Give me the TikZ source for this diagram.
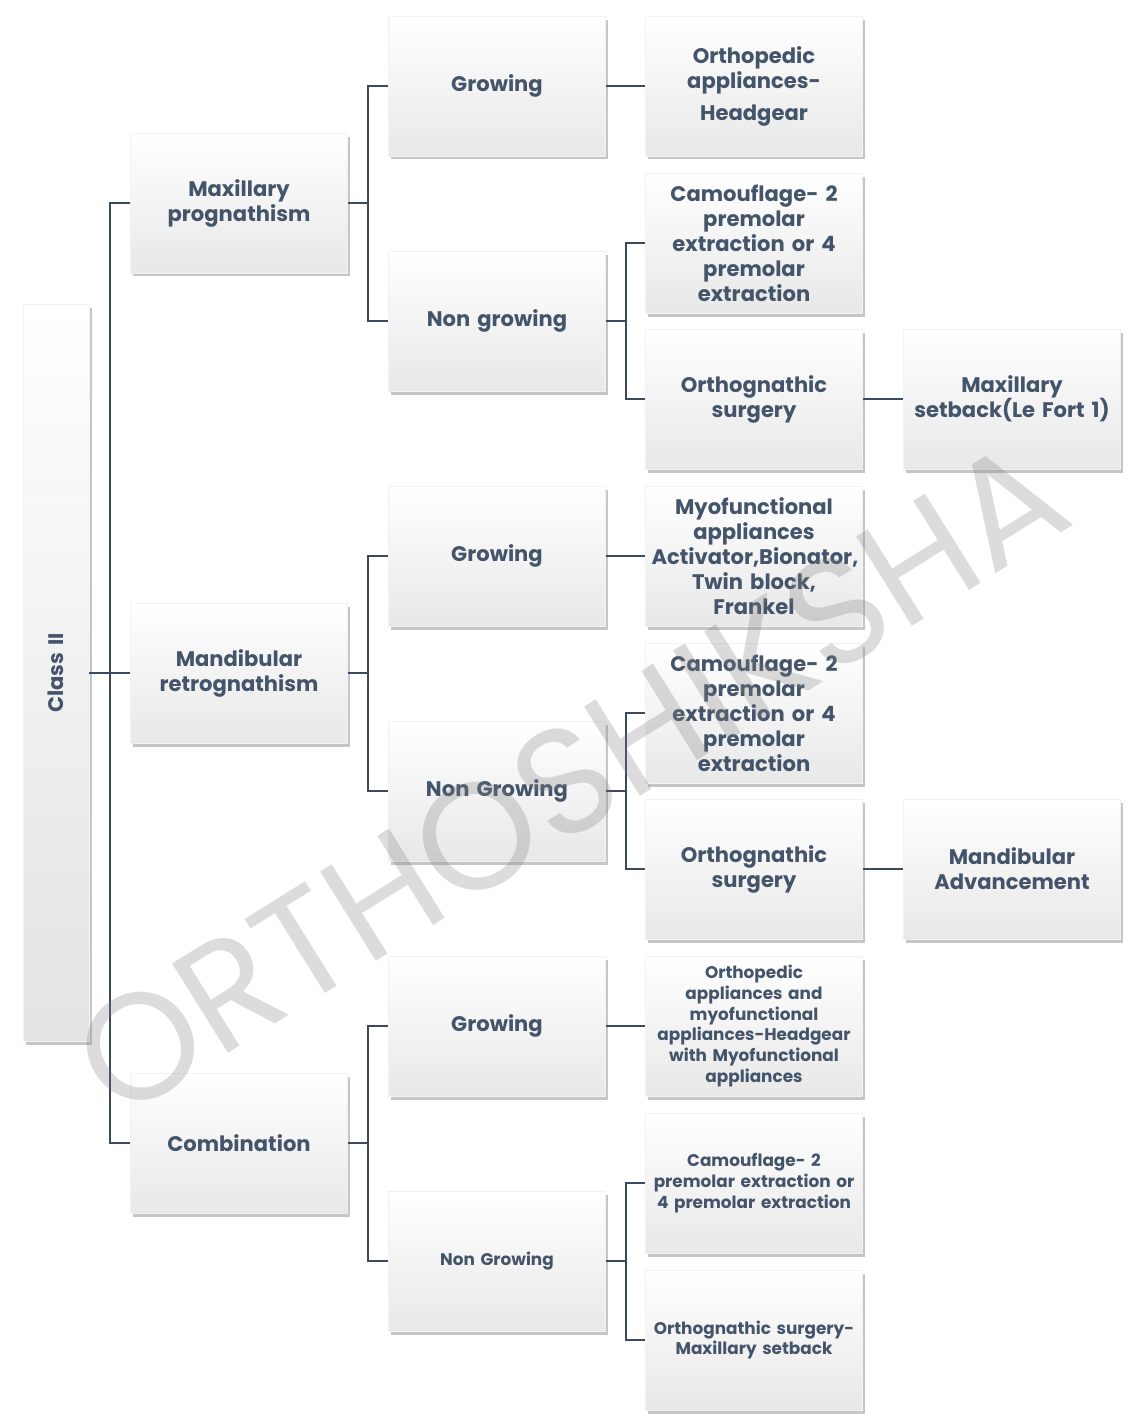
\documentclass[tikz,border=0pt]{standalone}
\usepackage{fontspec}
\setmainfont{Poppins}
\usepackage{tikz}
\usetikzlibrary{shadows, positioning, calc}
\definecolor{TextBlue}{HTML}{44546A}
\definecolor{LineBlue}{HTML}{3B4A5E}

\begin{document}
\begin{tikzpicture}[x=0.02cm, y=-0.02cm]
    \tikzset{box/.style={top color=white, bottom color=gray!18, draw=gray!10, text=TextBlue,
            minimum width=4.32cm, minimum height=2.8cm, text width=4.1cm, align=center,
            font=\fontsize{12}{14.2}\selectfont\bfseries,
            drop shadow={shadow xshift=1.5pt, shadow yshift=-2pt, opacity=.45}},
        small/.style={font=\fontsize{9.6}{11.9}\selectfont\bfseries},
        link/.style={draw=LineBlue, line width=0.9pt}
    }
    \useasboundingbox (0,0) rectangle (1129,1422);

    \node (ClassII) [box, rotate=90, minimum width=14.74cm, minimum height=1.32cm, text width=14cm,
        top color=white, bottom color=gray!22] at (56,673) {Class II};

    \node (Max) [box] at (239,203) {Maxillary\\prognathism};
    \node (Mand) [box] at (239,673) {Mandibular\\retrognathism};
    \node (Comb) [box] at (239,1143) {Combination};

    \node (Max-G) [box] at (497,86) {Growing};
    \node (Max-NG) [box] at (497,321) {Non growing};
    \node (Mand-G) [box] at (497,556) {Growing};
    \node (Mand-NG) [box] at (497,791) {Non Growing};
    \node (Comb-G) [box] at (497,1026) {Growing};
    \node (Comb-NG) [box, small] at (497,1261) {Non Growing};

    \node (Max-G-T) [box] at (754,86) {Orthopedic\\appliances-\\[4pt]Headgear};
    \node (Max-NG-C) [box] at (754,243) {Camouflage- 2\\premolar\\extraction or 4\\premolar\\extraction};
    \node (Max-NG-S) [box] at (754,399) {Orthognathic\\surgery};
    \node (Mand-G-T) [box] at (754,556) {Myofunctional\\appliances\\Activator,Bionator,\\Twin block,\\Frankel};
    \node (Mand-NG-C) [box] at (754,713) {Camouflage- 2\\premolar\\extraction or 4\\premolar\\extraction};
    \node (Mand-NG-S) [box] at (754,869) {Orthognathic\\surgery};
    \node (Comb-G-T) [box, small] at (754,1026) {Orthopedic\\appliances and\\myofunctional\\appliances-Headgear\\with Myofunctional\\appliances};
    \node (Comb-NG-C) [box, small] at (754,1183) {Camouflage- 2\\premolar extraction or\\4 premolar extraction\\[1.2em]};
    \node (Comb-NG-S) [box, small] at (754,1340) {Orthognathic surgery-\\Maxillary setback};

    \node (Max-NG-S-S) [box] at (1012,399) {Maxillary\\setback(Le Fort 1)};
    \node (Mand-NG-S-S) [box] at (1012,869) {Mandibular\\Advancement};

    \coordinate (J0) at (110,673);
    \draw [link] (ClassII.south) -- (J0);
    \foreach \c in {Max, Mand, Comb}
        \draw [link] (\c.west) -| (J0);

    \foreach \p / \y in {Max/203, Mand/673, Comb/1143} {
        \coordinate (J-\p) at (368,\y);
        \draw [link] (\p.east) -- (J-\p);
        \draw [link] (\p-G.west) -| (J-\p);
        \draw [link] (\p-NG.west) -| (J-\p);
        \draw [link] (\p-G.east) -- (\p-G-T.west);
    }

    \foreach \p / \y in {Max-NG/321, Mand-NG/791, Comb-NG/1261} {
        \coordinate (J-\p) at (626,\y);
        \draw [link] (\p.east) -- (J-\p);
        \draw [link] (\p-C.west) -| (J-\p);
        \draw [link] (\p-S.west) -| (J-\p);
    }

    \draw [link] (Max-NG-S.east) -- (Max-NG-S-S.west);
    \draw [link] (Mand-NG-S.east) -- (Mand-NG-S-S.west);

    \node (Mark) [rotate=32, text=gray, opacity=.28, font=\fontsize{86}{86}\selectfont] at (570,778) {ORTHOSHIKSHA};
\end{tikzpicture}
\end{document}
